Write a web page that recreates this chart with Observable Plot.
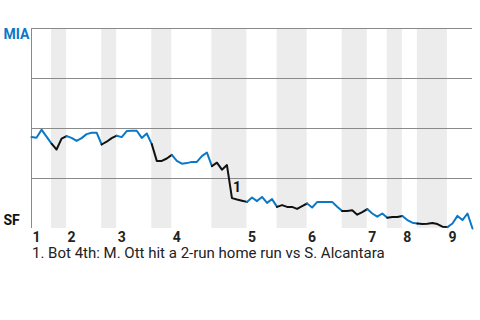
<!DOCTYPE html>
<html>
<head>
<meta charset="utf-8">
<script src="https://cdn.jsdelivr.net/npm/d3@7"></script>
<script src="https://cdn.jsdelivr.net/npm/@observablehq/plot@0.6"></script>
<style>
  html, body { margin: 0; padding: 0; background: #fff; }
  body { width: 480px; height: 320px; overflow: hidden; font-family: Roboto, sans-serif; }
  #note { font: 15px Roboto, sans-serif; color: #222; line-height: 17px; margin: 5px 0 0 32px; white-space: nowrap; }
</style>
</head>
<body>
<div id="chart"></div>
<div id="note"></div>
<script>
// Inning labels and where each half-inning starts (play index)
const innings = ["1", "2", "3", "4", "5", "6", "7", "8", "9"];
const topStart = [0, 7, 17, 28, 43, 55, 67, 74, 83];
const bottomStart = [4, 14, 24, 36, 49, 62, 71, 77];
const lastPlay = 88;

// MIA win probability (%) after each play
const miaWinProb = [
  45.7, 45.4, 49.4, 45.9, 42.4, 39.5, 44.9, 46.2, 45.3, 43.8,
  45.2, 47.2, 47.9, 47.9, 42.0, 43.4, 45.2, 46.4, 45.7, 48.7,
  48.9, 48.9, 45.3, 47.5, 42.2, 33.8, 33.8, 35.0, 36.8, 33.8,
  32.4, 32.7, 33.3, 33.3, 36.2, 38.0, 31.2, 32.9, 29.4, 31.7,
  15.2, 14.5, 13.9, 13.3, 15.5, 13.7, 15.8, 12.8, 14.7, 10.8,
  11.7, 10.8, 10.8, 9.8, 11.2, 12.5, 10.5, 13.2, 13.3, 13.3,
  13.3, 10.9, 8.7, 8.8, 9.1, 6.9, 8.2, 9.7, 7.5, 5.9,
  7.5, 5.4, 5.8, 5.8, 6.3, 4.2, 2.9, 2.5, 2.2, 2.4,
  2.7, 2.2, 0.9, 0.7, 2.5, 6.3, 4.2, 7.5, 0.0
];

const teams = ["MIA", "SF"];
const teamColors = ["#0b78c6", "#111111"];
const gridValues = [25, 50, 75, 100];

// Annotation
const notePlay = 40;
const noteLabel = "1";
const noteText = "1. Bot 4th: M. Ott hit a 2-run home run vs S. Alcantara";

// Build half-inning line pieces
const pieces = [];
const bands = [];
innings.forEach((inn, k) => {
  const tEnd = k < bottomStart.length ? bottomStart[k] : lastPlay;
  for (let i = topStart[k]; i <= tEnd; i++) pieces.push({play: i, p: miaWinProb[i], half: `T${inn}`, team: "MIA"});
  if (k < bottomStart.length) {
    const bEnd = topStart[k + 1];
    bands.push({x1: bottomStart[k], x2: bEnd});
    for (let i = bottomStart[k]; i <= bEnd; i++) pieces.push({play: i, p: miaWinProb[i], half: `B${inn}`, team: "SF"});
  }
});

const inningRows = innings.map((inn, k) => ({label: inn, play: topStart[k] + 1}));

const chart = Plot.plot({
  width: 480,
  height: 240,
  marginLeft: 31,
  marginRight: 8,
  marginTop: 28,
  marginBottom: 12,
  style: {fontFamily: "Roboto, sans-serif", background: "#fff", overflow: "visible"},
  x: {domain: [0, lastPlay], axis: null},
  y: {domain: [0, 100], axis: null},
  color: {domain: teams, range: teamColors},
  marks: [
    Plot.rect(bands, {x1: "x1", x2: "x2", fill: "#ececec"}),
    Plot.ruleY(gridValues, {stroke: "#8a8a8a", strokeWidth: 1}),
    Plot.ruleX([0], {stroke: "#8a8a8a", strokeWidth: 1}),
    Plot.line(pieces, {x: "play", y: "p", z: "half", stroke: "team", strokeWidth: 2, strokeLinejoin: "round"}),
    Plot.text([{play: notePlay, p: miaWinProb[notePlay]}], {x: "play", y: "p", text: () => noteLabel, textAnchor: "start", dx: 1, dy: -11, fontWeight: "bold", fontSize: 14, fill: "#111"}),
    Plot.text([teams[0]], {frameAnchor: "top-left", textAnchor: "start", lineAnchor: "middle", dx: -28, dy: 6, fill: teamColors[0], fontWeight: "bold", fontSize: 14}),
    Plot.text([teams[1]], {frameAnchor: "bottom-left", textAnchor: "start", lineAnchor: "middle", dx: -28, dy: -8, fill: teamColors[1], fontWeight: "bold", fontSize: 14}),
    Plot.text(inningRows, {x: "play", text: "label", frameAnchor: "bottom", lineAnchor: "middle", dy: 9, fontWeight: "bold", fontSize: 14, fill: "#222"})
  ]
});

document.getElementById("chart").appendChild(chart);
document.getElementById("note").textContent = noteText;
</script>
</body>
</html>
